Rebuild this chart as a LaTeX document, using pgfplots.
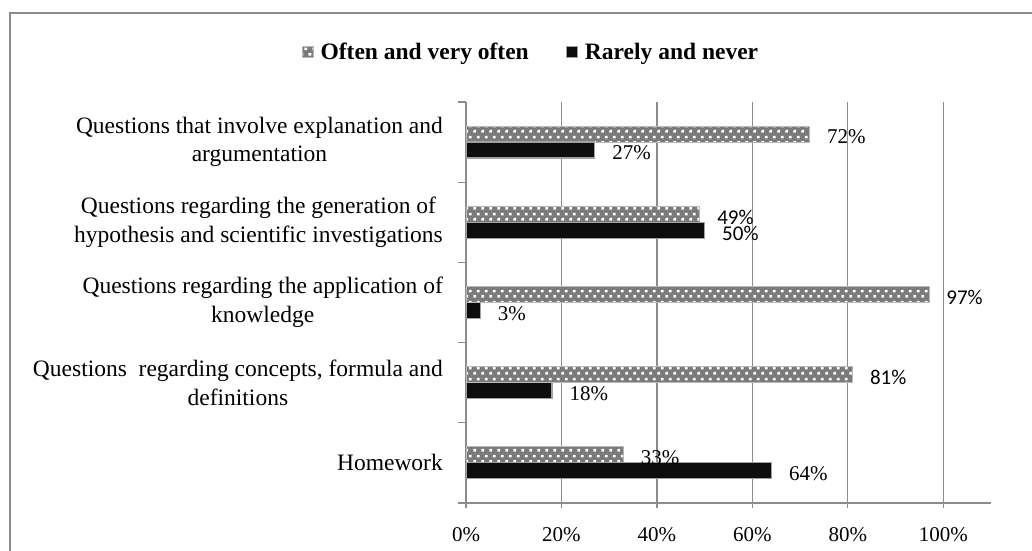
\documentclass[border=0pt]{standalone}
\usepackage{fontspec}
\setmainfont{Liberation Serif}
\newfontfamily\calib{Carlito}
\usepackage{pgfplots}
\pgfplotsset{compat=1.18}
\usetikzlibrary{patterns.meta}
\definecolor{gridgray}{HTML}{8C8C8C}
\definecolor{bargray}{HTML}{7A7A7A}
\definecolor{barblack}{HTML}{0D0D0D}
\definecolor{edgegray}{HTML}{A0A0A0}

\tikzdeclarepattern{
  name=exceldots,
  type=uncolored,
  bounding box={(0bp,0bp) and (7.5bp,11bp)},
  tile size={(7.5bp,11bp)},
  code={
    \fill (0.5bp,0.5bp) rectangle (3.3bp,3.3bp);
    \fill (4.25bp,6bp) rectangle (7.05bp,8.8bp);
  }
}

\begin{document}
\begin{tikzpicture}[x=1bp,y=1bp]
\useasboundingbox (0,0) rectangle (1032,551);
\draw[gridgray, line width=1.3bp] (10,-5) -- (10,538) -- (1040,538);
\begin{axis}[
  at={(466bp,48bp)}, anchor=south west,
  scale only axis, width=525bp, height=401bp,
  xbar, bar width=16bp,
  xmin=0, xmax=110, ymin=-0.5, ymax=4.5,
  axis x line*=bottom, axis y line*=left,
  axis line style={gridgray, line width=1.3bp, -},
  xtick={0,20,...,100},
  xticklabels={0\%,20\%,40\%,60\%,80\%,100\%},
  xmajorgrids, grid style={gridgray, line width=1.3bp},
  tick align=outside,
  major tick length=5bp,
  minor tick length=8bp,
  major x tick style={gridgray, line width=1.3bp},
  major y tick style={draw=none},
  minor y tick style={draw=gridgray, line width=1.3bp},
  ytick={0,1,2,3,4},
  minor ytick={-0.5,0.5,1.5,2.5,3.5,4.5},
  yticklabels={
    Homework,
    {Questions\ \ regarding concepts, formula and\\definitions},
    {Questions regarding the application of\\knowledge},
    {Questions regarding the generation of\\hypothesis and scientific investigations},
    {Questions that involve explanation and\\argumentation}},
  yticklabel style={font=\fontsize{23.5bp}{28.5bp}\selectfont, align=center, inner sep=0pt, xshift=-18bp},
  xticklabel style={font=\fontsize{21bp}{21bp}\selectfont, inner sep=0pt, yshift=-19bp},
  legend style={at={(0.1238,1.1247)}, anchor=center, draw=none, fill=none,
    legend columns=2,
    font=\fontsize{23.5bp}{28bp}\selectfont\bfseries,
    /tikz/every odd column/.append style={column sep=5bp},
    /tikz/every even column/.append style={column sep=35bp}},
  legend cell align=left,
  legend image code/.code={\fill[#1] (0bp,-5.5bp) rectangle (11bp,5.5bp);},
  point meta=x,
  nodes near coords={\pgfmathprintnumber[assume math mode=true]{\pgfplotspointmeta}\%},
  every node near coord/.append style={anchor=west, inner sep=0pt, xshift=17bp, yshift=-3bp,
    font=\fontsize{21bp}{21bp}\selectfont, text=black},
  oftenstyle/.style={fill=bargray, draw=gray!55, line width=0.8bp, bar shift=8bp,
    postaction={pattern={exceldots}, pattern color=white}},
  rarelystyle/.style={fill=barblack, draw=edgegray, line width=1.2bp, bar shift=-8bp},
  sanslabels/.style={every node near coord/.append style={font=\fontsize{21bp}{21bp}\selectfont\calib}},
]
% Often and very often (serif-labelled values)
\addplot[oftenstyle] coordinates {(33,0) (72,4)};
\addlegendentry{Often and very often}
\addplot[rarelystyle] coordinates {(64,0) (18,1) (3,2) (27,4)};
\addlegendentry{Rarely and never}
% values whose labels are set in a sans font
\addplot[oftenstyle, sanslabels, forget plot] coordinates {(81,1) (97,2) (49,3)};
\addplot[rarelystyle, sanslabels, forget plot] coordinates {(50,3)};
\end{axis}
\end{tikzpicture}
\end{document}
